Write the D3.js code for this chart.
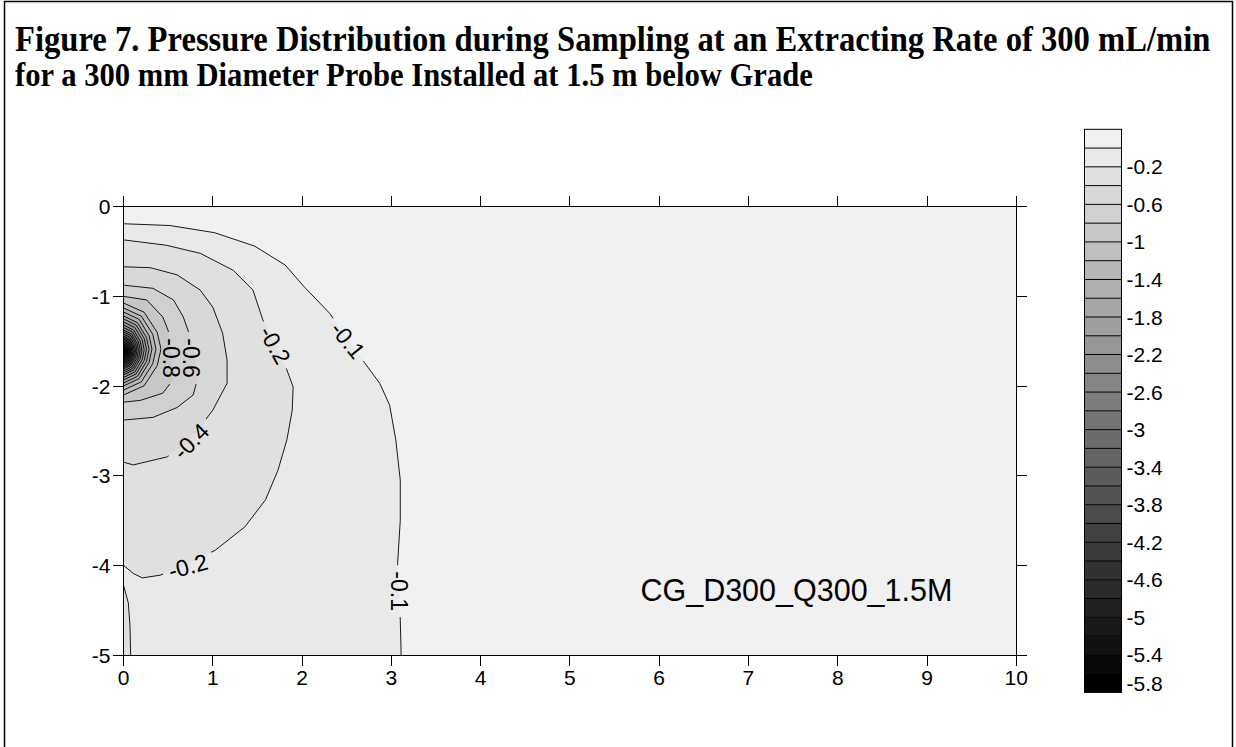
<!DOCTYPE html>
<html><head><meta charset="utf-8">
<script src="https://cdn.jsdelivr.net/npm/d3@7"></script>
<style>body{margin:0;background:#fff;} svg{display:block;}</style>
</head><body>
<svg id="chart" width="1236" height="747"></svg>
<script>
// ---------- data ----------
const titleLines = [
  "Figure 7. Pressure Distribution during Sampling at an Extracting Rate of 300 mL/min",
  "for a 300 mm Diameter Probe Installed at 1.5 m below Grade"
];
const xTicks = [0,1,2,3,4,5,6,7,8,9,10];
const yTicks = [0,-1,-2,-3,-4,-5];
const annotation = "CG_D300_Q300_1.5M";
// colour-scale boundaries (top = data max)
const colorBounds = [0,-0.1,-0.2,-0.4,-0.6,-0.8,-1,-1.2,-1.4,-1.6,-1.8,-2,-2.2,-2.4,-2.6,-2.8,-3,
  -3.2,-3.4,-3.6,-3.8,-4,-4.2,-4.4,-4.6,-4.8,-5,-5.2,-5.4,-5.6,-5.8];
const colorLabels = [-0.2,-0.6,-1,-1.4,-1.8,-2.2,-2.6,-3,-3.4,-3.8,-4.2,-4.6,-5,-5.4,-5.8];

// digitised outer contours [x (m), y (m)]
const contourM01 = [[0,-0.19],[0.52,-0.21],[1.02,-0.29],[1.47,-0.44],[1.81,-0.65],[2.03,-0.9],[2.31,-1.19],
  [2.7,-1.74],[2.87,-1.97],[2.98,-2.21],[3.05,-2.6],[3.1,-3.05],[3.1,-3.5],[3.07,-3.98],[3.1,-4.61],[3.11,-5]];
const contourM02 = [[0,-0.37],[0.48,-0.43],[0.86,-0.52],[1.23,-0.71],[1.45,-0.93],[1.56,-1.26],[1.7,-1.54],
  [1.83,-1.82],[1.9,-2.01],[1.89,-2.27],[1.83,-2.6],[1.73,-2.94],[1.59,-3.27],[1.36,-3.57],[1.03,-3.83],
  [0.71,-3.99],[0.41,-4.11],[0.21,-4.14],[0.11,-4.09],[0,-4.0]];
const contourM02b = [[0,-4.22],[0.054,-4.42],[0.073,-4.68],[0.08,-5]];
const contourM04 = [[0,-0.67],[0.3,-0.68],[0.6,-0.76],[0.86,-0.93],[1.0,-1.12],[1.11,-1.41],[1.16,-1.71],
  [1.16,-1.97],[1.0,-2.27],[0.77,-2.57],[0.49,-2.79],[0.11,-2.88],[0,-2.85]];
const contourM06 = [[0,-0.875],[0.33,-0.91],[0.56,-1.04],[0.67,-1.23],[0.74,-1.43],[0.8,-1.66],[0.83,-1.92],
  [0.78,-2.1],[0.6,-2.24],[0.33,-2.35],[0,-2.38]];
const contourM08 = [[0,-1.0],[0.26,-1.04],[0.44,-1.23],[0.5,-1.38],[0.53,-1.6],[0.555,-1.93],[0.44,-2.08],
  [0.19,-2.16],[0,-2.18]];
// inner nested contours around the probe: level, top & bottom intercept on x=0, max radial extent
const innerLevels = [-1,-1.2,-1.4,-1.6,-1.8,-2,-2.2,-2.4,-2.6,-2.8,-3,-3.2,-3.4,-3.6,-3.8,-4,-4.2,-4.4,-4.6,-4.8,-5,-5.2,-5.4,-5.6];
const innerTop = [-1.074,-1.129,-1.174,-1.219,-1.252,-1.286,-1.32,-1.347,-1.375,-1.397,-1.42,-1.442,-1.459,-1.475,
  -1.492,-1.509,-1.523,-1.537,-1.55,-1.563,-1.574,-1.584,-1.592,-1.602];
const innerBottom = [-2.1,-2.045,-2.0,-1.967,-1.933,-1.905,-1.877,-1.855,-1.833,-1.81,-1.794,-1.777,-1.761,-1.747,
  -1.732,-1.719,-1.707,-1.694,-1.683,-1.673,-1.663,-1.654,-1.645,-1.637];
const innerXmax = [0.42,0.364,0.319,0.286,0.258,0.232,0.207,0.187,0.168,0.151,0.135,0.121,0.108,0.095,0.084,
  0.073,0.063,0.054,0.046,0.038,0.031,0.025,0.019,0.013];
// contour labels
const labelText = ["-0.1","-0.1","-0.2","-0.2","-0.4","-0.6","-0.8"];
const labelX = [2.514,3.085,1.697,0.722,0.756,0.761,0.538];
const labelY = [-1.487,-4.288,-1.542,-4.009,-2.614,-1.688,-1.688];
const labelAngle = [51,90,61,-15,-45,90,90];

// ---------- drawing ----------
const svg = d3.select("#chart");
const FONT = "'Liberation Sans', Arial, sans-serif";
const x = d3.scaleLinear().domain([0,10]).range([123.5,1016.3]);
const y = d3.scaleLinear().domain([0,-5]).range([206.7,655]);
const nBox = colorBounds.length - 1;
const shade = k => { const g = Math.round(241*(nBox-1-k)/(nBox-1)); return d3.rgb(g,g,g).toString(); };
const boxOf = lvl => colorBounds.indexOf(lvl);

// outer frame
svg.append("rect").attr("x",4.5).attr("y",1.5).attr("width",1228).attr("height",800)
  .attr("fill","none").attr("stroke","#000").attr("stroke-width",1.5);

// title: fit line 1 to the reference width, then stretch vertically a little
const titleWidths = [1196, 798];
titleLines.forEach((t,i)=>{
  const tx = svg.append("text").attr("x",0).attr("y",0)
    .attr("font-family","'Liberation Serif','Times New Roman',serif").attr("font-weight","bold")
    .attr("font-size",30).text(t);
  const w = tx.node().getComputedTextLength();
  const fs = 30*titleWidths[i]/w;
  tx.attr("font-size",fs).attr("transform",`translate(15,${51+i*34.5}) scale(1,1.12)`);
});

// build contour features
const features = [
  {level:-0.1, pts:contourM01, close:"corner"},
  {level:-0.2, pts:contourM02, close:"left"},
  {level:-0.2, pts:contourM02b, close:"corner"},
  {level:-0.4, pts:contourM04, close:"left"},
  {level:-0.6, pts:contourM06, close:"left"},
  {level:-0.8, pts:contourM08, close:"left"}
];
innerLevels.forEach((lv,i)=>{
  const t = innerTop[i], b = innerBottom[i], m = innerXmax[i], h = b - t;
  features.push({level:lv, close:"left", pts:[[0,t],[0.55*m,t+0.1*h],[0.9*m,t+0.32*h],[m,t+0.5*h],
    [0.9*m,t+0.68*h],[0.55*m,t+0.9*h],[0,b]]});
});

const plot = svg.append("g");
plot.append("rect").attr("x",x(0)).attr("y",y(0)).attr("width",x(10)-x(0)).attr("height",y(-5)-y(0))
  .attr("fill",shade(0));
const line = d3.line().x(d=>x(d[0])).y(d=>y(d[1]));
features.forEach(f=>{
  const poly = f.close==="corner" ? f.pts.concat([[0,-5]]) : f.pts;
  plot.append("path").attr("d",line(poly)+"Z").attr("fill",shade(boxOf(f.level))).attr("stroke","none");
});

// mask to break contour lines under labels
const defs = svg.append("defs");
const mask = defs.append("mask").attr("id","lblmask").attr("maskUnits","userSpaceOnUse");
mask.append("rect").attr("x",0).attr("y",0).attr("width",1236).attr("height",747).attr("fill","#fff");
labelText.forEach((t,i)=>{
  const w = t.length*11.5+6;
  mask.append("rect").attr("x",-w/2).attr("y",-10).attr("width",w).attr("height",20).attr("fill","#000")
    .attr("transform",`translate(${x(labelX[i])},${y(labelY[i])}) rotate(${labelAngle[i]})`);
});
const lines = plot.append("g").attr("mask","url(#lblmask)");
features.forEach(f=>{
  lines.append("path").attr("d",line(f.pts)).attr("fill","none").attr("stroke","#000").attr("stroke-width",0.9);
});
labelText.forEach((t,i)=>{
  plot.append("text").attr("transform",`translate(${x(labelX[i])},${y(labelY[i])}) rotate(${labelAngle[i]})`)
    .attr("text-anchor","middle").attr("dy","0.36em").attr("font-family",FONT).attr("font-size",23).text(t);
});

// axes
const ax = svg.append("g").attr("stroke","#000").attr("stroke-width",1).attr("shape-rendering","crispEdges");
ax.append("line").attr("x1",x(0)).attr("x2",x(10)).attr("y1",y(0)).attr("y2",y(0));
ax.append("line").attr("x1",x(0)).attr("x2",x(10)).attr("y1",y(-5)).attr("y2",y(-5));
ax.append("line").attr("x1",x(0)).attr("x2",x(0)).attr("y1",y(0)).attr("y2",y(-5));
ax.append("line").attr("x1",x(10)).attr("x2",x(10)).attr("y1",y(0)).attr("y2",y(-5));
xTicks.forEach(v=>{
  ax.append("line").attr("x1",x(v)).attr("x2",x(v)).attr("y1",y(0)).attr("y2",y(0)-11);
  ax.append("line").attr("x1",x(v)).attr("x2",x(v)).attr("y1",y(-5)).attr("y2",y(-5)+11);
  svg.append("text").attr("x",x(v)).attr("y",y(-5)+30).attr("text-anchor","middle")
    .attr("font-family",FONT).attr("font-size",21).text(v);
});
yTicks.forEach(v=>{
  ax.append("line").attr("x1",x(0)-11).attr("x2",x(0)).attr("y1",y(v)).attr("y2",y(v));
  ax.append("line").attr("x1",x(10)).attr("x2",x(10)+11).attr("y1",y(v)).attr("y2",y(v));
  svg.append("text").attr("x",x(0)-13).attr("y",y(v)).attr("dy","0.36em").attr("text-anchor","end")
    .attr("font-family",FONT).attr("font-size",21).text(v);
});

// annotation
svg.append("text").attr("x",x(5.79)).attr("y",y(-4.4)).attr("font-family",FONT).attr("font-size",30.5).text(annotation);

// colour bar
const cb = d3.scaleLinear().domain([0,nBox]).range([129.3,692.4]);
const cbx0 = 1084.5, cbx1 = 1121.5;
const cbg = svg.append("g");
d3.range(nBox).forEach(k=>{
  cbg.append("rect").attr("x",cbx0).attr("y",cb(k)).attr("width",cbx1-cbx0).attr("height",cb(k+1)-cb(k))
    .attr("fill",shade(k));
});
d3.range(1,nBox).forEach(k=>{
  cbg.append("line").attr("x1",cbx0).attr("x2",cbx1).attr("y1",cb(k)).attr("y2",cb(k))
    .attr("stroke","#000").attr("stroke-width",1);
});
cbg.append("rect").attr("x",cbx0).attr("y",cb(0)).attr("width",cbx1-cbx0).attr("height",cb(nBox)-cb(0))
  .attr("fill","none").attr("stroke","#000").attr("stroke-width",1);
colorLabels.forEach(v=>{
  const idx = colorBounds.indexOf(v);
  const yy = idx===nBox ? cb(idx)-9 : cb(idx);
  cbg.append("text").attr("x",cbx1+5).attr("y",yy).attr("dy","0.36em").attr("font-family",FONT)
    .attr("font-size",21).text(v);
});
</script>
</body></html>
